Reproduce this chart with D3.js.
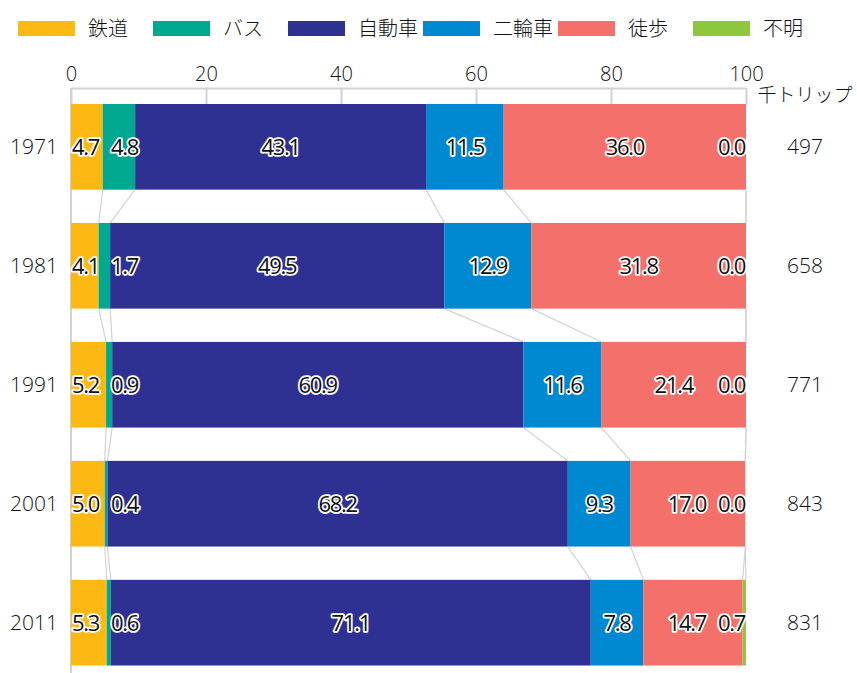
<!DOCTYPE html>
<html lang="ja">
<head>
<meta charset="utf-8">
<script src="https://cdn.jsdelivr.net/npm/d3@7"></script>
<style>
  html, body { margin: 0; padding: 0; background: #fff; }
  svg { display: block; font-family: "Open Sans", "Noto Sans CJK JP", sans-serif; }
  .ja { font-family: "Noto Sans CJK JP", sans-serif; }
</style>
</head>
<body>
<svg id="chart" width="857" height="673"></svg>
<script>
// 代表交通手段別構成比（%）と総トリップ数（千トリップ）
const years = ["1971", "1981", "1991", "2001", "2011"];
const modes = ["鉄道", "バス", "自動車", "二輪車", "徒歩", "不明"];
const modeColors = ["#FDB913", "#00A88F", "#2E3192", "#0089D0", "#F3716A", "#8DC63F"];
const rail    = [4.7, 4.1, 5.2, 5.0, 5.3];
const bus     = [4.8, 1.7, 0.9, 0.4, 0.6];
const car     = [43.1, 49.5, 60.9, 68.2, 71.1];
const twoWheel= [11.5, 12.9, 11.6, 9.3, 7.8];
const walk    = [36.0, 31.8, 21.4, 17.0, 14.7];
const unknown = [0.0, 0.0, 0.0, 0.0, 0.7];
const totals  = [497, 658, 771, 843, 831];
const axisTicks = [0, 20, 40, 60, 80, 100];
const unitLabel = "千トリップ";

const series = [rail, bus, car, twoWheel, walk, unknown];
const rows = years.map((yr, i) => {
  let acc = 0;
  const segs = series.map((s, k) => {
    const x0 = acc; acc += s[i];
    return { mode: modes[k], color: modeColors[k], v: s[i], x0, x1: acc };
  });
  return { year: yr, total: totals[i], segs };
});

const svg = d3.select("#chart");
const FONT = 20;
const TEXT = "#111";
const LIGHT = 300;

const x = d3.scaleLinear().domain([0, 100]).range([71, 746]).clamp(true);
const y = d3.scaleBand().domain(years).range([104, 665.5]).paddingInner(0.28).paddingOuter(0);
const bw = y.bandwidth();
const gridColor = "#d2d2d2";

// 凡例
const legend = svg.append("g").selectAll("g").data(modes).join("g")
  .attr("transform", (d, i) => `translate(${18 + i * 135},0)`);
legend.append("rect").attr("x", 0).attr("y", 21).attr("width", 57).attr("height", 15)
  .attr("fill", (d, i) => modeColors[i]);
legend.append("text").attr("class", "ja").attr("x", 70).attr("y", 28.5).attr("dy", "0.35em")
  .attr("font-size", FONT).attr("font-weight", LIGHT).attr("fill", TEXT).text(d => d);

// 上部の目盛り
const axis = svg.append("g").attr("transform", "translate(0,88)")
  .call(d3.axisTop(x).tickValues(axisTicks).tickSize(-16).tickSizeOuter(0).tickPadding(7))
  .attr("font-family", null).attr("font-size", null);
axis.select(".domain").attr("stroke", gridColor).attr("stroke-width", 2);
axis.selectAll(".tick line").attr("stroke", gridColor).attr("stroke-width", 2);
axis.selectAll(".tick text").attr("font-size", FONT).attr("font-weight", LIGHT)
  .attr("fill", TEXT);

// 左端の縦線
svg.append("line").attr("x1", x(0)).attr("x2", x(0)).attr("y1", 88).attr("y2", 673)
  .attr("stroke", gridColor).attr("stroke-width", 2);

// 年次間の連結線
const links = svg.append("g").attr("stroke", gridColor).attr("stroke-width", 1.2);
for (let i = 0; i < rows.length - 1; i++) {
  const a = rows[i], b = rows[i + 1];
  const bounds = [0].concat(a.segs.map(s => s.x1));
  const boundsB = [0].concat(b.segs.map(s => s.x1));
  bounds.forEach((v, k) => {
    links.append("line")
      .attr("x1", x(v)).attr("y1", y(a.year) + bw)
      .attr("x2", x(boundsB[k])).attr("y2", y(b.year));
  });
}

// 帯グラフ
const rowG = svg.append("g").selectAll("g").data(rows).join("g")
  .attr("transform", d => `translate(0,${y(d.year)})`);
rowG.selectAll("rect").data(d => d.segs.filter(s => s.v > 0)).join("rect")
  .attr("x", s => x(s.x0)).attr("y", 0)
  .attr("width", s => Math.max(0, x(s.x1) - x(s.x0))).attr("height", bw)
  .attr("fill", s => s.color);

// 数値ラベル（重なりを避けて配置）
rowG.each(function (row) {
  const g = d3.select(this);
  const labels = row.segs.map(s => {
    const t = g.append("text")
      .attr("y", bw / 2).attr("dy", "0.36em")
      .attr("text-anchor", "middle")
      .attr("font-size", 22).attr("font-weight", 400)
      .attr("letter-spacing", -1.3)
      .attr("fill", TEXT).attr("stroke", "#fff").attr("stroke-width", 3.6)
      .attr("stroke-linejoin", "round").attr("paint-order", "stroke")
      .text(s.v.toFixed(1));
    const w = t.node().getComputedTextLength();
    return { t, w, c: (x(s.x0) + x(s.x1)) / 2 };
  });
  const lo = x(0) + 1, hi = x(100) - 1, gap = 12;
  const clampL = l => { l.c = Math.min(hi - l.w / 2, Math.max(lo + l.w / 2, l.c)); };
  labels.forEach(clampL);
  for (let iter = 0; iter < 200; iter++) {
    let moved = false;
    for (let i = 0; i < labels.length - 1; i++) {
      const a = labels[i], b = labels[i + 1];
      const ov = (a.c + a.w / 2 + gap) - (b.c - b.w / 2);
      if (ov > 0.01) {
        a.c -= ov / 2; b.c += ov / 2;
        clampL(a); clampL(b);
        moved = true;
      }
    }
    if (!moved) break;
  }
  labels.forEach(l => l.t.attr("x", l.c));
});

// 年次ラベル
svg.append("g").selectAll("text").data(rows).join("text")
  .attr("x", 58).attr("y", d => y(d.year) + bw / 2).attr("dy", "0.35em")
  .attr("text-anchor", "end").attr("font-size", 21).attr("font-weight", LIGHT)
  .attr("fill", TEXT).text(d => d.year);

// 総トリップ数
svg.append("text").attr("class", "ja").attr("x", 805).attr("y", 95).attr("dy", "0.35em")
  .attr("text-anchor", "middle").attr("font-size", 19).attr("font-weight", LIGHT)
  .attr("fill", TEXT).text(unitLabel);
svg.append("g").selectAll("text").data(rows).join("text")
  .attr("x", 805).attr("y", d => y(d.year) + bw / 2).attr("dy", "0.35em")
  .attr("text-anchor", "middle").attr("font-size", 21).attr("font-weight", LIGHT)
  .attr("fill", TEXT).text(d => d.total);
</script>
</body>
</html>
